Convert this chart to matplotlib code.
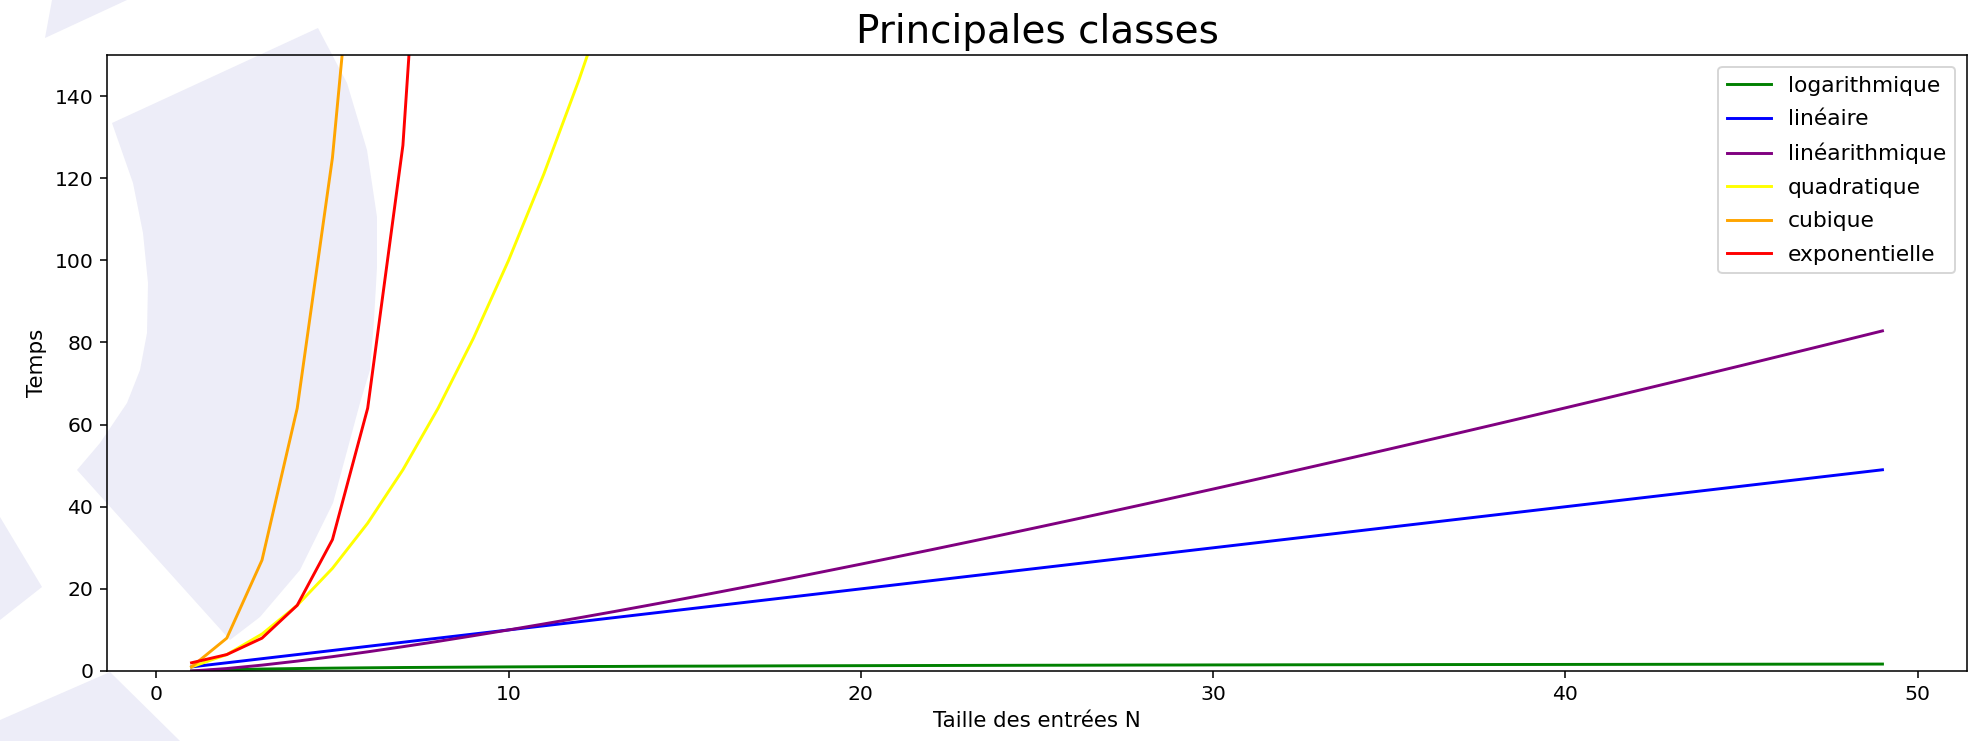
import matplotlib
matplotlib.use('Agg')
import matplotlib.pyplot as plt
from matplotlib.patches import Polygon

# taille des entrées
N = list(range(1, 50))

logarithmique = [0.00, 0.30, 0.48, 0.60, 0.70, 0.78, 0.85, 0.90, 0.95, 1.00,
                 1.04, 1.08, 1.11, 1.15, 1.18, 1.20, 1.23, 1.26, 1.28, 1.30,
                 1.32, 1.34, 1.36, 1.38, 1.40, 1.41, 1.43, 1.45, 1.46, 1.48,
                 1.49, 1.51, 1.52, 1.53, 1.54, 1.56, 1.57, 1.58, 1.59, 1.60,
                 1.61, 1.62, 1.63, 1.64, 1.65, 1.66, 1.67, 1.68, 1.69]
lineaire = [1, 2, 3, 4, 5, 6, 7, 8, 9, 10, 11, 12, 13, 14, 15, 16, 17, 18, 19, 20,
            21, 22, 23, 24, 25, 26, 27, 28, 29, 30, 31, 32, 33, 34, 35, 36, 37, 38,
            39, 40, 41, 42, 43, 44, 45, 46, 47, 48, 49]
linearithmique = [0.00, 0.60, 1.43, 2.41, 3.49, 4.67, 5.92, 7.22, 8.59, 10.00,
                  11.46, 12.95, 14.48, 16.05, 17.64, 19.27, 20.92, 22.59, 24.30, 26.02,
                  27.77, 29.53, 31.32, 33.12, 34.95, 36.79, 38.65, 40.52, 42.41, 44.31,
                  46.23, 48.16, 50.11, 52.07, 54.04, 56.03, 58.02, 60.03, 62.05, 64.08,
                  66.12, 68.18, 70.24, 72.31, 74.39, 76.49, 78.59, 80.70, 82.82]
quadratique = [1, 4, 9, 16, 25, 36, 49, 64, 81, 100, 121, 144, 169]
cubique = [1, 8, 27, 64, 125, 216]
exponentielle = [2, 4, 8, 16, 32, 64, 128, 256]

W, H, DPI = 1970, 741, 140
fig = plt.figure(figsize=(W / DPI, H / DPI), dpi=DPI)
ax = fig.add_axes([107 / W, 1 - 671 / H, (1967 - 107) / W, (671 - 55) / H])
ax.patch.set_alpha(0)

# filigrane pâle en arrière-plan (pixels, y depuis le haut)
wm = '#ededf8'
shapes = [
    [(112, 123), (318, 28), (347, 83), (367, 150), (377, 217), (377, 267), (374, 320),
     (370, 370), (360, 403), (333, 503), (300, 570), (260, 617), (230, 640), (77, 470),
     (100, 443), (127, 403), (140, 370), (147, 333), (148, 283), (143, 233), (133, 183)],
    [(52, 0), (127, 0), (45, 38)],
    [(0, 517), (42, 587), (0, 620)],
    [(0, 741), (0, 720), (110, 672), (180, 741)],
]
for pts in shapes:
    poly = Polygon([(x / W, 1 - y / H) for x, y in pts], closed=True,
                   facecolor=wm, edgecolor='none', transform=fig.transFigure, zorder=-1)
    fig.add_artist(poly)

ax.plot(N, logarithmique, color='green', linewidth=1.5, label='logarithmique')
ax.plot(N, lineaire, color='blue', linewidth=1.5, label='linéaire')
ax.plot(N, linearithmique, color='purple', linewidth=1.5, label='linéarithmique')
ax.plot(N[:len(quadratique)], quadratique, color='yellow', linewidth=1.5, label='quadratique')
ax.plot(N[:len(cubique)], cubique, color='orange', linewidth=1.5, label='cubique')
ax.plot(N[:len(exponentielle)], exponentielle, color='red', linewidth=1.5, label='exponentielle')

ax.set_xlim(-1.4, 51.4)
ax.set_ylim(0, 150)
ax.tick_params(labelsize=10.5)
ax.set_xlabel('Taille des entrées N', fontsize=11)
ax.set_ylabel('Temps', fontsize=11)
ax.set_title('Principales classes', fontsize=20)
ax.legend(loc='upper right', fontsize=11.2, labelspacing=0.62, borderaxespad=0.55)

fig.savefig('out.png', dpi=DPI)
